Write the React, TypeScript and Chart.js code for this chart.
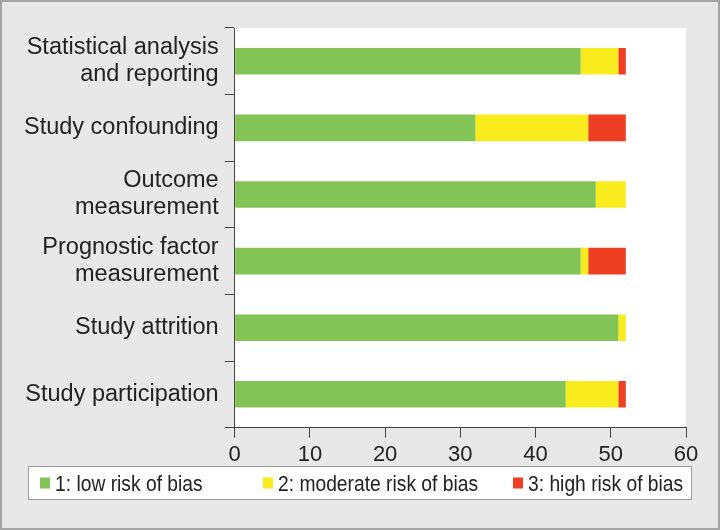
import { useEffect, useRef } from "react";
import { Chart, registerables } from "chart.js";
Chart.register(...registerables);

const categories: (string | string[])[] = [
  ["Statistical analysis", "and reporting"],
  "Study confounding",
  ["Outcome", "measurement"],
  ["Prognostic factor", "measurement"],
  "Study attrition",
  "Study participation",
];
const lowRisk = [46, 32, 48, 46, 51, 44];
const moderateRisk = [5, 15, 4, 1, 1, 7];
const highRisk = [1, 5, 0, 5, 0, 1];
const seriesNames = ["1: low risk of bias", "2: moderate risk of bias", "3: high risk of bias"];
const seriesColors = ["#84c457", "#f8ec1e", "#ee3f24"];
const xMin = 0;
const xMax = 60;
const xStep = 10;

const FONT = "'Liberation Sans', Arial, sans-serif";

// legend layout (drawn by plugin, horizontally condensed like Arial Narrow)
const legendBox = { left: 28, right: 691, top: 466, bottom: 499 };
const legendItemX = [40, 263, 513];

const framePlugin = {
  id: "frame",
  beforeDraw(chart: any) {
    const { ctx, width, height, chartArea } = chart;
    ctx.save();
    ctx.fillStyle = "#e8e8e8";
    ctx.fillRect(0, 0, width, height);
    ctx.strokeStyle = "#a5a5a5";
    ctx.lineWidth = 2;
    ctx.strokeRect(1, 1, width - 2, height - 2);
    ctx.fillStyle = "#ffffff";
    ctx.fillRect(chartArea.left, chartArea.top, chartArea.right - chartArea.left, chartArea.bottom - chartArea.top);
    ctx.restore();
  },
  afterDraw(chart: any) {
    const { ctx } = chart;
    ctx.save();
    ctx.fillStyle = "#ffffff";
    ctx.fillRect(legendBox.left, legendBox.top, legendBox.right - legendBox.left, legendBox.bottom - legendBox.top);
    ctx.strokeStyle = "#9a9a9a";
    ctx.lineWidth = 1;
    ctx.strokeRect(legendBox.left + 0.5, legendBox.top + 0.5, legendBox.right - legendBox.left, legendBox.bottom - legendBox.top);
    const mid = (legendBox.top + legendBox.bottom) / 2;
    chart.data.datasets.forEach((ds: any, i: number) => {
      const x = legendItemX[i];
      ctx.fillStyle = ds.backgroundColor;
      ctx.fillRect(x, mid - 5, 10, 11);
      ctx.save();
      ctx.translate(x + 15, mid + 8);
      ctx.scale(0.875, 1);
      ctx.fillStyle = "#222";
      ctx.font = `22px ${FONT}`;
      ctx.textBaseline = "alphabetic";
      ctx.fillText(ds.label, 0, 0);
      ctx.restore();
    });
    ctx.restore();
  },
};

export default function App() {
  const ref = useRef<HTMLCanvasElement | null>(null);
  useEffect(() => {
    if (!ref.current) return;
    const chart = new Chart(ref.current, {
      type: "bar",
      data: {
        labels: categories,
        datasets: [lowRisk, moderateRisk, highRisk].map((d, i) => ({
          label: seriesNames[i],
          data: d,
          backgroundColor: seriesColors[i],
          borderWidth: 0,
          barPercentage: 0.4,
          categoryPercentage: 1,
        })),
      },
      options: {
        indexAxis: "y",
        responsive: false,
        animation: false,
        layout: { padding: { top: 28, right: 34, bottom: 58, left: 18 } },
        scales: {
          x: {
            stacked: true,
            min: xMin,
            max: xMax,
            ticks: { stepSize: xStep, color: "#222", font: { family: FONT, size: 22, lineHeight: 1.2 }, padding: 4 },
            grid: { drawOnChartArea: false, tickLength: 10, color: "#444", tickColor: "#444" },
            border: { color: "#444", width: 1 },
          },
          y: {
            stacked: true,
            ticks: { color: "#222", font: { family: FONT, size: 23.5, lineHeight: 1.15 }, padding: 6 },
            grid: { drawOnChartArea: false, offset: true, tickLength: 10, color: "#444", tickColor: "#444" },
            border: { color: "#444", width: 1 },
          },
        },
        plugins: {
          tooltip: { enabled: false },
          legend: { display: false },
        },
      },
      plugins: [framePlugin],
    } as any);
    return () => chart.destroy();
  }, []);
  return (
    <div style={{ position: "absolute", left: 0, top: 0 }}>
      <canvas ref={ref} width={720} height={530} style={{ display: "block" }} />
    </div>
  );
}
